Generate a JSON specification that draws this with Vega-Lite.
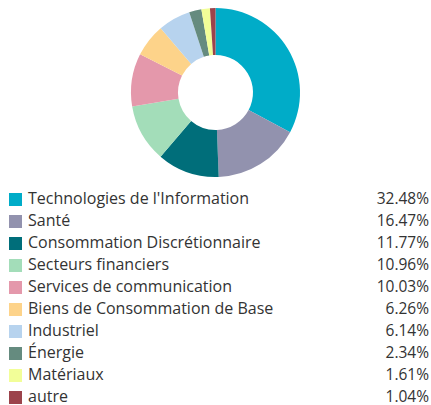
{
  "$schema": "https://vega.github.io/schema/vega-lite/v6.json",
  "padding": 0,
  "spacing": 0,
  "bounds": "flush",
  "background": "white",
  "config": {"view": {"stroke": null}, "font": "Open Sans", "concat": {"spacing": 0}},
  "data": {
    "values": [
      {"idx": 0, "sector": "Technologies de l'Information", "pct": 32.48, "label": "32.48%"},
      {"idx": 1, "sector": "Santé", "pct": 16.47, "label": "16.47%"},
      {"idx": 2, "sector": "Consommation Discrétionnaire", "pct": 11.77, "label": "11.77%"},
      {"idx": 3, "sector": "Secteurs financiers", "pct": 10.96, "label": "10.96%"},
      {"idx": 4, "sector": "Services de communication", "pct": 10.03, "label": "10.03%"},
      {"idx": 5, "sector": "Biens de Consommation de Base", "pct": 6.26, "label": "6.26%"},
      {"idx": 6, "sector": "Industriel", "pct": 6.14, "label": "6.14%"},
      {"idx": 7, "sector": "Énergie", "pct": 2.34, "label": "2.34%"},
      {"idx": 8, "sector": "Matériaux", "pct": 1.61, "label": "1.61%"},
      {"idx": 9, "sector": "autre", "pct": 1.04, "label": "1.04%"}
    ]
  },
  "vconcat": [
    {
      "width": 431,
      "height": 185,
      "mark": {"type": "arc", "outerRadius": 84.5, "innerRadius": 37.5},
      "encoding": {
        "theta": {"field": "pct", "type": "quantitative", "stack": true},
        "order": {"field": "idx", "type": "quantitative"},
        "color": {
          "field": "sector",
          "type": "nominal",
          "legend": null,
          "scale": {
            "domain": ["Technologies de l'Information", "Santé", "Consommation Discrétionnaire", "Secteurs financiers", "Services de communication", "Biens de Consommation de Base", "Industriel", "Énergie", "Matériaux", "autre"],
            "range": ["#00ACC8", "#9292AE", "#006E7A", "#A3DDB9", "#E498AB", "#FDD38A", "#B7D3EE", "#658B7F", "#F2FE98", "#9C434B"]
          }
        }
      }
    },
    {
      "width": 431,
      "height": 220,
      "encoding": {
        "y": {"field": "idx", "type": "quantitative", "axis": null, "scale": {"domain": [-0.659, 9.341], "reverse": true, "nice": false, "zero": false}}
      },
      "layer": [
        {
          "mark": {"type": "point", "shape": "square", "filled": true, "size": 169, "opacity": 1, "x": 15.5},
          "encoding": {
            "color": {
              "field": "sector",
              "type": "nominal",
              "legend": null,
              "scale": {
                "domain": ["Technologies de l'Information", "Santé", "Consommation Discrétionnaire", "Secteurs financiers", "Services de communication", "Biens de Consommation de Base", "Industriel", "Énergie", "Matériaux", "autre"],
                "range": ["#00ACC8", "#9292AE", "#006E7A", "#A3DDB9", "#E498AB", "#FDD38A", "#B7D3EE", "#658B7F", "#F2FE98", "#9C434B"]
              }
            }
          }
        },
        {
          "mark": {"type": "text", "x": 28, "align": "left", "baseline": "middle", "fontSize": 16, "color": "#333333", "font": "Open Sans"},
          "encoding": {"text": {"field": "sector"}}
        },
        {
          "mark": {"type": "text", "x": 429, "align": "right", "baseline": "middle", "fontSize": 15.5, "color": "#333333", "font": "Open Sans"},
          "encoding": {"text": {"field": "label"}}
        }
      ]
    }
  ]
}
